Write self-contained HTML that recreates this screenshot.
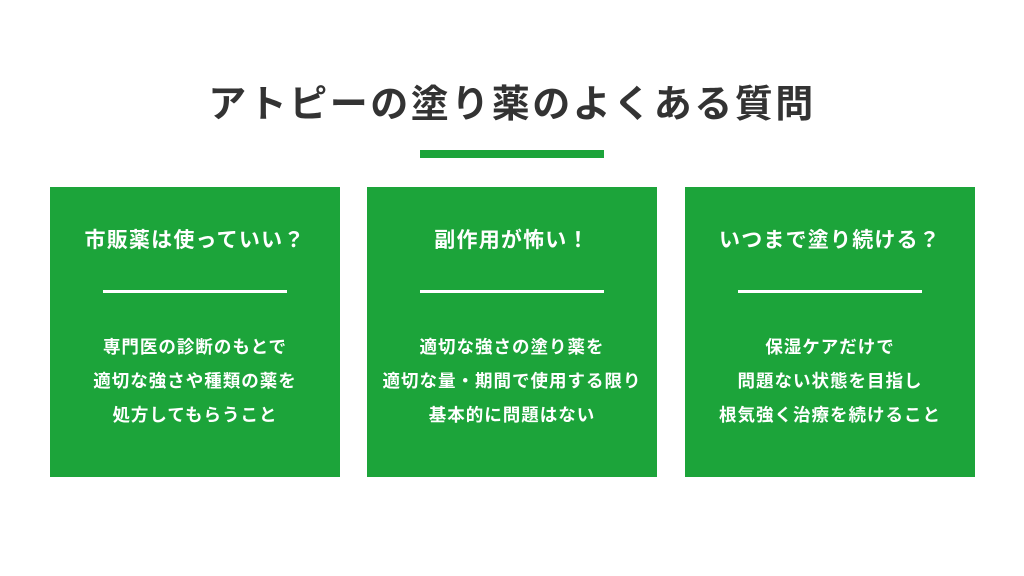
<!DOCTYPE html>
<html><head><meta charset="utf-8"><style>
body{margin:0;width:1024px;height:576px;background:#fff;position:relative;overflow:hidden;font-family:"Liberation Sans","Noto Sans CJK JP",sans-serif;}
.t{position:absolute;left:0;width:1024px;top:80px;text-align:center;font-size:38px;font-weight:bold;color:#333;letter-spacing:2.5px;line-height:50px;}
.bar{position:absolute;left:420px;top:150px;width:184px;height:8px;background:#1ca43a;}
.b{position:absolute;top:187px;width:290px;height:290px;background:#1ca43a;color:#fff;text-align:center;}
.h{position:absolute;top:39px;left:0;width:100%;font-size:21px;font-weight:bold;line-height:30px;letter-spacing:1.2px;}
.l{position:absolute;top:103px;left:53px;width:184px;height:3px;background:#fff;}
.p{position:absolute;top:143px;left:0;width:100%;font-size:17.5px;font-weight:bold;line-height:34px;letter-spacing:1px;}
</style></head><body>
<div class="t">アトピーの塗り薬のよくある質問</div>
<div class="bar"></div>
<div class="b" style="left:50px"><div class="h">市販薬は使っていい？</div><div class="l"></div><div class="p">専門医の診断のもとで<br>適切な強さや種類の薬を<br>処方してもらうこと</div></div>
<div class="b" style="left:367px"><div class="h">副作用が怖い！</div><div class="l"></div><div class="p">適切な強さの塗り薬を<br>適切な量・期間で使用する限り<br>基本的に問題はない</div></div>
<div class="b" style="left:685px"><div class="h">いつまで塗り続ける？</div><div class="l"></div><div class="p">保湿ケアだけで<br>問題ない状態を目指し<br>根気強く治療を続けること</div></div>
</body></html>
